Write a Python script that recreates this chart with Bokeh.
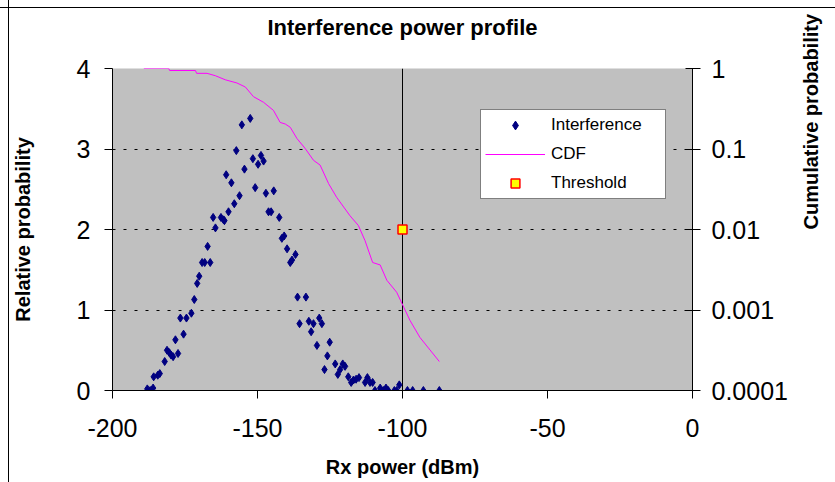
import math
from bokeh.plotting import figure
from bokeh.models import (Range1d, LinearAxis, LogAxis, LogScale, FixedTicker,
                          Legend, LegendItem, Span)
from bokeh.embed import file_html
from bokeh.resources import INLINE

FONT = "Liberation Sans"

# ---- data ----
interf_x = [-188.0, -187.0, -186.0, -185.8, -184.4, -183.7, -182.0,
            -181.2, -180.4, -179.8, -179.1, -177.4, -178.3, -175.5,
            -176.6, -174.5, -172.8, -171.8, -170.8, -170.1, -169.1,
            -168.2, -166.3, -167.2, -164.5, -165.3, -162.6, -161.7,
            -161.4, -160.0, -158.0, -156.2, -159.0, -160.8, -154.5,
            -157.3, -155.4, -152.5, -151.6, -149.8, -148.8, -147.9,
            -150.8, -147.1, -144.4, -146.2, -145.3, -142.5, -141.6,
            -140.8, -139.8, -138.7, -138.1, -136.9, -136.2, -135.5,
            -133.3, -132.3, -130.7, -128.7, -127.8, -131.5, -129.5,
            -125.1, -125.9, -126.9, -123.2, -122.3, -121.5, -120.6,
            -119.8, -118.7, -117.7, -116.9, -116.0, -115.0, -112.9,
            -112.1, -111.2, -110.3, -109.5, -107.7, -106.6, -105.7,
            -104.9, -102.8, -102.0, -101.1, -98.3, -96.5, -92.8, -87.3]
interf_y = [0.02, 0.00, 0.03, 0.17, 0.19, 0.21, 0.36,
            0.50, 0.47, 0.44, 0.42, 0.46, 0.63, 0.70,
            0.90, 0.90, 0.96, 1.13, 1.33, 1.42, 1.59,
            1.59, 1.59, 1.79, 2.02, 2.15, 2.15, 2.12,
            2.11, 2.22, 2.32, 2.42, 2.58, 2.68, 2.75,
            2.98, 3.30, 3.38, 2.88, 2.81, 2.92, 2.85,
            2.52, 2.45, 2.48, 2.22, 2.22, 2.15, 1.89,
            1.92, 1.76, 1.59, 1.62, 1.69, 1.16, 0.83,
            1.16, 0.86, 0.83, 0.90, 0.83, 0.73, 0.56,
            0.60, 0.43, 0.26, 0.33, 0.20, 0.26, 0.33,
            0.30, 0.17, 0.10, 0.13, 0.14, 0.16, 0.10,
            0.16, 0.10, 0.10, 0.00, 0.03, 0.00, 0.03,
            0.00, 0.00, 0.00, 0.07, 0.00, 0.00, 0.00, 0.00]

cdf_x = [-189.2, -180.6, -180.3, -171.4, -171.0, -167.4, -164.5, -161.1,
         -157.1, -154.2, -151.4, -147.9, -144.5, -142.2, -140.4, -138.7,
         -136.4, -133.6, -130.7, -128.4, -125.5, -122.7, -118.1, -115.2,
         -112.9, -110.3, -107.7, -105.4, -102.0, -99.5, -97.4, -94.0, -87.3]
cdf_p = [1.0, 1.0, 0.944, 0.944, 0.871, 0.871, 0.813, 0.724,
         0.661, 0.589, 0.447, 0.380, 0.302, 0.214, 0.204, 0.186,
         0.135, 0.102, 0.0724, 0.0631, 0.0372, 0.0251, 0.0148, 0.0112,
         0.00724, 0.00389, 0.00363, 0.00234, 0.00166, 0.00107, 0.00074,
         0.000457, 0.000229]

thr_x = [-100.0]
thr_y = [2.0]

title_text = "Interference power profile"
x_ticks = [-200, -150, -100, -50, 0]
x_labels = ["-200", "-150", "-100", "-50", "0"]
y_ticks = [0, 1, 2, 3, 4]
p_ticks = [0.0001, 0.001, 0.01, 0.1, 1]
p_labels = ["0.0001", "0.001", "0.01", "0.1", "1"]

# ---- figure ----
p = figure(width=835, height=482, output_backend="svg", toolbar_location=None,
           x_range=Range1d(-200, 0), y_range=Range1d(0, 4),
           min_border_left=112, min_border_right=140,
           min_border_top=68, min_border_bottom=92)
p.extra_y_ranges = {"cdf": Range1d(0.0001, 1)}
p.extra_y_scales = {"cdf": LogScale()}

p.background_fill_color = "#C0C0C0"
p.border_fill_color = None
p.outline_line_color = None
p.styles = {
    "background-color": "white",
    "background-image": ("linear-gradient(to right, transparent 8px, #000 8px, #000 9px, transparent 9px), "
                         "linear-gradient(to bottom, transparent 7px, #000 7px, #000 8px, transparent 8px)"),
}

p.xgrid.visible = False
p.ygrid.ticker = FixedTicker(ticks=y_ticks)
p.ygrid.grid_line_color = "black"
p.ygrid.grid_line_dash = "3 8"
p.ygrid.grid_line_width = 1

def style_axis(ax):
    ax.axis_line_color = "black"
    ax.axis_line_width = 1
    ax.major_tick_line_color = "black"
    ax.minor_tick_line_color = None
    ax.major_label_text_font = FONT
    ax.major_label_text_font_size = "25px"
    ax.major_label_text_color = "black"
    ax.axis_label_text_font = FONT
    ax.axis_label_text_font_size = "20px"
    ax.axis_label_text_font_style = "bold"
    ax.axis_label_text_color = "black"

xa = p.below[0]
style_axis(xa)
xa.ticker = FixedTicker(ticks=x_ticks)
xa.major_label_overrides = {t: l for t, l in zip(x_ticks, x_labels)}
xa.major_tick_out = 8
xa.major_tick_in = 0
xa.major_label_standoff = 20
xa.axis_label = "Rx power (dBm)"
xa.axis_label_standoff = 16

ya = p.left[0]
style_axis(ya)
ya.ticker = FixedTicker(ticks=y_ticks)
ya.major_tick_out = 8
ya.major_tick_in = 0
ya.major_label_standoff = 14
ya.axis_label = "Relative probability"
ya.axis_label_standoff = 40

ra = LogAxis(y_range_name="cdf")
style_axis(ra)
ra.ticker = FixedTicker(ticks=p_ticks)
ra.major_label_overrides = {t: l for t, l in zip(p_ticks, p_labels)}
ra.major_tick_out = 8
ra.major_tick_in = 7
ra.major_label_standoff = 11
ra.axis_label = "Cumulative probability"
ra.axis_label_standoff = 20
ra.axis_label_orientation = math.pi / 2
p.add_layout(ra, "right")

# chart title carried by a bare axis above the frame
ta = LinearAxis(ticker=FixedTicker(ticks=[]), axis_label=title_text)
ta.axis_line_color = None
ta.major_tick_line_color = None
ta.minor_tick_line_color = None
ta.major_tick_out = 0
ta.major_tick_in = 0
ta.major_label_standoff = 0
ta.axis_label_text_font = FONT
ta.axis_label_text_font_size = "22px"
ta.axis_label_text_font_style = "bold"
ta.axis_label_text_color = "black"
ta.axis_label_standoff = 29
p.add_layout(ta, "above")

# ---- renderers ----
vline = Span(location=thr_x[0], dimension="height", line_color="black",
             line_width=1, level="underlay")
p.add_layout(vline)

sc = p.scatter(interf_x, interf_y, marker="diamond", size=8,
               fill_color="#000080", line_color="#000080")
ln = p.line(cdf_x, cdf_p, y_range_name="cdf", line_color="#FF00FF", line_width=1)
th = p.scatter(thr_x, thr_y, marker="square", size=9, fill_color="#FFFF00",
               line_color="#FF0000", line_width=1.5)

legend = Legend(items=[LegendItem(label="Interference", renderers=[sc]),
                       LegendItem(label="CDF", renderers=[ln]),
                       LegendItem(label="Threshold", renderers=[th])],
                location=(368, 191))
legend.border_line_color = "black"
legend.border_line_width = 1
legend.background_fill_color = "white"
legend.background_fill_alpha = 1
legend.label_text_font = FONT
legend.label_text_font_size = "17px"
legend.label_text_color = "black"
legend.padding = 4
legend.spacing = 7
legend.margin = 0
legend.glyph_width = 60
legend.glyph_height = 22
legend.label_height = 22
legend.label_width = 110
legend.label_standoff = 6
p.add_layout(legend)

open("out.html", "w").write(file_html(p, INLINE))
